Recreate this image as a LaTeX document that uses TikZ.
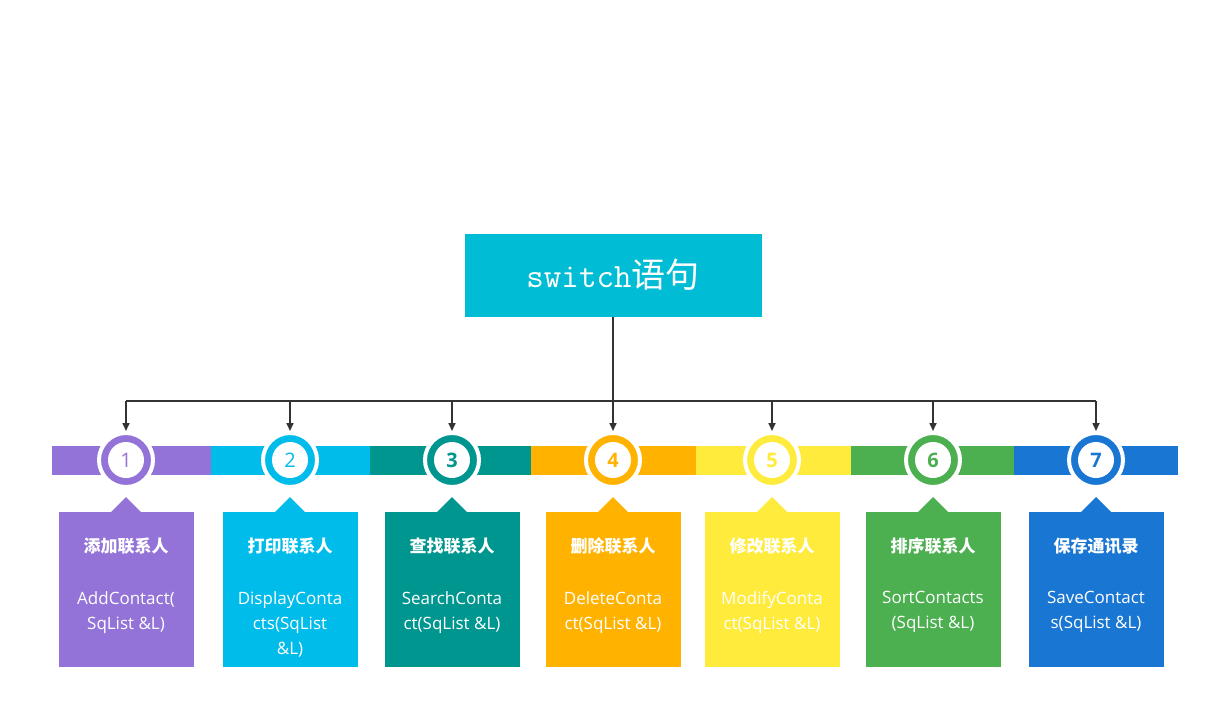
\documentclass[tikz,border=0pt]{standalone}
\usepackage{fontspec}
\setmainfont{Open Sans}
\newfontfamily\cjk{Noto Sans CJK SC}
\usetikzlibrary{positioning,arrows.meta}
\definecolor{cPurple}{RGB}{147,115,216}
\definecolor{cCyan}{RGB}{0,188,235}
\definecolor{cTeal}{RGB}{0,150,144}
\definecolor{cOrange}{RGB}{255,179,0}
\definecolor{cYellow}{RGB}{255,235,59}
\definecolor{cGreen}{RGB}{76,175,80}
\definecolor{cBlue}{RGB}{25,118,210}
\definecolor{cHead}{RGB}{0,188,212}
\definecolor{cLine}{RGB}{51,51,51}
\begin{document}
\begin{tikzpicture}[x=1pt, y=-1pt]
    % Define styles
    \tikzset{
      head/.style={rectangle, fill=cHead, minimum width=297pt, minimum height=83pt, text=white, font=\cjk\fontsize{34}{40}\selectfont},
      numring/.style={circle, draw=white, line width=4pt, minimum size=54pt, inner sep=0pt},
      card/.style={rectangle, minimum width=135pt, minimum height=155pt, anchor=north},
      cardtext/.style={text=white, align=center, font=\fontsize{17}{25}\selectfont},
      arrow/.style={draw=cLine, line width=1.6pt, -{Triangle[length=8pt, width=7pt]}}
    }
    \useasboundingbox (0,0) rectangle (1208,718);

    % Head node
    \node [head] (sw) at (613,275) {\texttt{\fontsize{34}{40}\selectfont switch}语句};

    % Bar, rings, cards
    \foreach \i/\xa/\xb/\cx/\col/\num/\ttl/\body in {
      1/52/211/126/cPurple/1/添加联系人/{AddContact(\\SqList \&L)},
      2/211/370/290/cCyan/2/打印联系人/{DisplayConta\\cts(SqList\\\&L)},
      3/370/531/452/cTeal/\textbf{3}/查找联系人/{SearchConta\\ct(SqList \&L)},
      4/531/696/613/cOrange/\textbf{4}/删除联系人/{DeleteConta\\ct(SqList \&L)},
      5/696/851/772/cYellow/\textbf{5}/修改联系人/{ModifyConta\\ct(SqList \&L)},
      6/851/1014/933/cGreen/\textbf{6}/排序联系人/{SortContacts\\(SqList \&L)},
      7/1014/1178/1096/cBlue/\textbf{7}/保存通讯录/{SaveContact\\s(SqList \&L)}} {
      \fill [\col] (\xa,446) rectangle (\xb,475);
      \node [numring, fill=\col] (c\i) at (\cx,460) {};
      \node [circle, fill=white, minimum size=36pt, inner sep=0pt, text=\col, font=\fontsize{20}{20}\selectfont] at (\cx,460) {\num};
      \node [card, fill=\col] (b\i) at (\cx,512) {};
      \fill [\col] (\cx-16,513) -- (\cx,497) -- (\cx+16,513) -- cycle;
      \node [cardtext, font=\cjk\bfseries\fontsize{17}{20}\selectfont] at (\cx,546) {\ttl};
      \node [cardtext, anchor=north] at (\cx,588) {\body};
    }

    % Arrows
    \draw [cLine, line width=1.6pt] (sw.south) -- (613,401);
    \draw [cLine, line width=1.6pt] (126,401) -- (1096,401);
    \foreach \i/\cx in {1/126,2/290,3/452,4/613,5/772,6/933,7/1096}
      \draw [arrow] (\cx,401) -- (c\i.north);
\end{tikzpicture}
\end{document}
